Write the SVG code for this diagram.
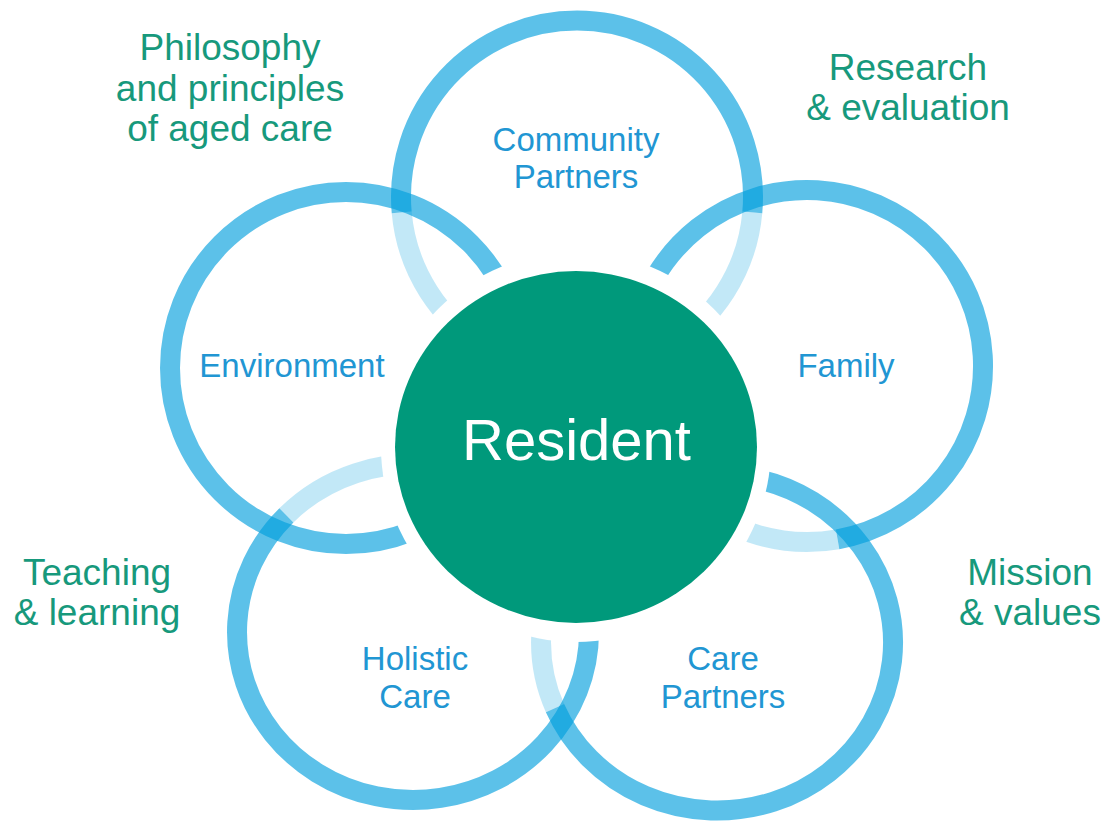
<svg xmlns="http://www.w3.org/2000/svg" width="1105" height="832" viewBox="0 0 1105 832">
<style>
.ring{fill:none;stroke:#009EDC;stroke-width:20}
.dk{stroke-opacity:0.64}
.lt{stroke-opacity:0.24}
.lbl{font-family:"Liberation Sans",Arial,sans-serif;font-size:33px;fill:#2196D3;text-anchor:middle}
.out{font-family:"Liberation Sans",Arial,sans-serif;font-size:37px;fill:#17997C;text-anchor:middle}
.ctr{font-family:"Liberation Sans",Arial,sans-serif;font-size:58px;fill:#FFFFFF;text-anchor:middle}
</style>
<defs>
<mask id="gap" maskUnits="userSpaceOnUse" x="0" y="0" width="1105" height="832">
<rect x="0" y="0" width="1105" height="832" fill="#fff"/>
<circle cx="576" cy="447" r="195" fill="#000"/>
</mask>
</defs>
<rect x="0" y="0" width="1105" height="832" fill="#FFFFFF"/>

<g id="ring-community" mask="url(#gap)">
<path class="ring lt" d="M 489 349.4 A 176 176 0 0 1 401.7 212.3"/>
<path class="ring dk" d="M 401.7 212.3 A 176 176 0 1 1 752.3 212.3"/>
<path class="ring lt" d="M 752.3 212.3 A 176 176 0 0 1 665 349.4"/>
</g>
<g id="ring-environment" mask="url(#gap)">
<circle class="ring dk" cx="346" cy="368" r="176"/>
</g>
<g id="ring-family" mask="url(#gap)">
<path class="ring dk" d="M 633.7 335.4 A 176 176 0 1 1 837.6 539.3"/>
<path class="ring lt" d="M 837.6 539.3 A 176 176 0 0 1 633.7 335.4"/>
</g>
<g id="ring-holistic" mask="url(#gap)">
<path class="ring dk" d="M 578.4 574.5 A 176 168 0 1 1 286.4 515.3"/>
<path class="ring lt" d="M 286.4 515.3 A 176 168 0 0 1 578.4 574.5"/>
</g>
<g id="ring-care" mask="url(#gap)">
<path class="ring dk" d="M 686.4 477.1 A 176 168 0 1 1 555.0 708.1"/>
<path class="ring lt" d="M 555.0 708.1 A 176 168 0 0 1 686.4 477.1"/>
</g>

<g id="resident">
<ellipse cx="576" cy="447" rx="181" ry="176" fill="#00997B"/>
<text class="ctr" x="576.5" y="460">Resident</text>
</g>

<g id="label-community"><text class="lbl" x="576" y="151">Community</text><text class="lbl" x="576" y="188">Partners</text></g>
<g id="label-environment"><text class="lbl" x="292" y="377">Environment</text></g>
<g id="label-family"><text class="lbl" x="846" y="377">Family</text></g>
<g id="label-holistic"><text class="lbl" x="415" y="670">Holistic</text><text class="lbl" x="415" y="708">Care</text></g>
<g id="label-care"><text class="lbl" x="723" y="670">Care</text><text class="lbl" x="723" y="708">Partners</text></g>

<g id="philosophy"><text class="out" x="230" y="60">Philosophy</text><text class="out" x="230" y="101">and principles</text><text class="out" x="230" y="141">of aged care</text></g>
<g id="research"><text class="out" x="908" y="80">Research</text><text class="out" x="908" y="120">&amp; evaluation</text></g>
<g id="teaching"><text class="out" x="97" y="585">Teaching</text><text class="out" x="97" y="625">&amp; learning</text></g>
<g id="mission"><text class="out" x="1030" y="585">Mission</text><text class="out" x="1030" y="625">&amp; values</text></g>
</svg>
